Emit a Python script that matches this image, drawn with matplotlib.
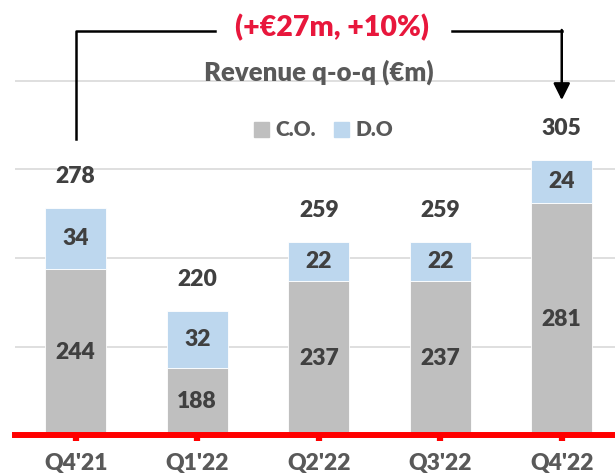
import matplotlib

matplotlib.use("Agg")
import matplotlib.pyplot as plt  # noqa: E402
import numpy as np  # noqa: E402

quarters = ["Q4'21", "Q1'22", "Q2'22", "Q3'22", "Q4'22"]
co_values = [244, 188, 237, 237, 281]
do_values = [34, 32, 22, 22, 24]
totals = [278, 220, 259, 259, 305]
y_min = 150
gridlines = [200, 250, 300, 350]

GRAY = "#BFBFBF"
BLUE = "#BDD7EE"
DARK = "#404040"
MID = "#595959"
RED_TXT = "#E8173C"
W = "heavy"

plt.rcParams["font.family"] = ["Lato", "DejaVu Sans"]

fig = plt.figure(figsize=(6.15, 4.75), dpi=100)
ax = fig.add_axes([15 / 615, 39.6 / 475, 607.5 / 615, 435.4 / 475])

x = np.arange(len(quarters))
co = np.array(co_values)
do = np.array(do_values)

ax.bar(x, co, width=0.5, color=GRAY, edgecolor="white", linewidth=0.6, zorder=2)
ax.bar(x, do, bottom=co, width=0.5, color=BLUE, edgecolor="white", linewidth=0.6, zorder=2)

ax.set_xlim(-0.5, 4.5)
ax.set_ylim(y_min, 395.4)
for g in gridlines:
    ax.axhline(g, color="#D9D9D9", linewidth=1.2, zorder=0)

for xi, c, d, t in zip(x, co, do, totals):
    ax.text(xi, (y_min + c) / 2, str(c), ha="center", va="center",
            fontsize=16.5, color=DARK, fontweight=W, zorder=3)
    ax.text(xi, c + d / 2, str(d), ha="center", va="center",
            fontsize=16.5, color=DARK, fontweight=W, zorder=3)
    ax.annotate(str(t), (xi, t), xytext=(0, 23), textcoords="offset points",
                ha="center", va="center", fontsize=16.5, color=DARK, fontweight=W)

# axis styling
for s in ["top", "right", "left"]:
    ax.spines[s].set_visible(False)
ax.spines["bottom"].set_color("#FF0000")
ax.spines["bottom"].set_linewidth(4.3)
ax.spines["bottom"].set_zorder(4)
ax.set_yticks([])
ax.set_xticks(x)
ax.set_xticklabels(quarters, fontsize=16.5, color=MID, fontweight=W)
ax.tick_params(axis="x", length=4.5, width=4.5, color="#FF0000", pad=8.5)

# title + legend
ax.text(2.0, 354.8, "Revenue q-o-q (€m)", ha="center", va="center",
        fontsize=18.5, color=MID, fontweight=W)
handles = [plt.Rectangle((0, 0), 1, 1, color=GRAY), plt.Rectangle((0, 0), 1, 1, color=BLUE)]
leg = ax.legend(handles, ["C.O.", "D.O"], loc="center",
                bbox_to_anchor=((323.5 - 15) / 607.5, (435.4 - 130) / 435.4),
                ncol=2, frameon=False, handlelength=0.7, handleheight=0.7,
                handletextpad=0.3, columnspacing=0.9,
                prop={"size": 15, "weight": W})
for t in leg.get_texts():
    t.set_color(MID)

# growth bracket Q4'21 -> Q4'22
y_top = 378
ax.plot([0, 0, 1.15], [317, y_top, y_top], color="black", lw=1.8, clip_on=False)
ax.plot([3.1, 4], [y_top, y_top], color="black", lw=1.8, clip_on=False)
ax.annotate("", xy=(4, 339), xytext=(4, y_top + 0.5),
            arrowprops=dict(arrowstyle="-|>,head_width=0.5,head_length=1.0",
                            color="black", lw=1.8, shrinkA=0, shrinkB=0))
ax.text(2.11, 380, "(+€27m, +10%)", ha="center", va="center",
        fontsize=20.5, color=RED_TXT, fontweight=W)

fig.savefig("out.png", dpi=100)
